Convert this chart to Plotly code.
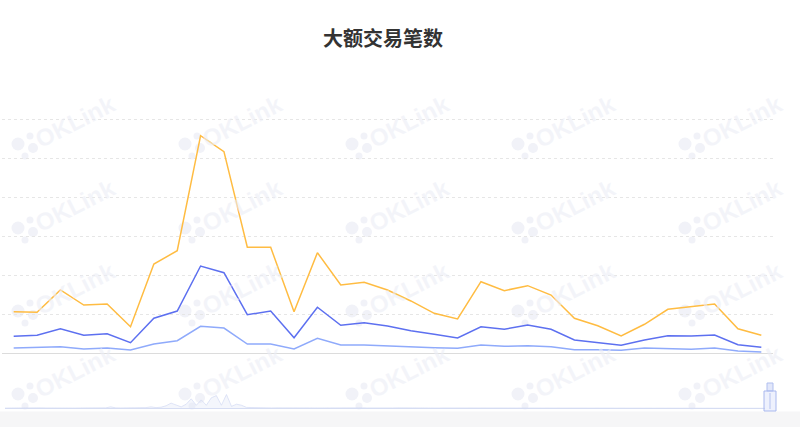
import plotly.graph_objects as go

# ---- data (y-axis units arbitrary, grid step = 500) ----
periods = list(range(1, 34))  # 33 unlabeled periods

series_high = [533, 526, 812, 619, 632, 341, 1145, 1315, 2790, 2585, 1359, 1359, 533,
               1290, 876, 910, 812, 671, 513, 440, 918, 803, 867, 747, 449, 354, 222,
               372, 564, 597, 632, 315, 231]
series_mid = [218, 231, 315, 231, 251, 136, 449, 542, 1119, 1033, 495, 542, 200,
              590, 359, 392, 350, 288, 244, 196, 341, 308, 363, 308, 171, 141, 103,
              171, 226, 222, 235, 110, 77]
series_low = [68, 72, 85, 55, 68, 42, 119, 162, 346, 324, 119, 119, 55,
              192, 106, 106, 94, 77, 72, 64, 106, 90, 97, 85, 46, 46, 38,
              68, 59, 51, 68, 29, 17]
grid_values = [500, 1000, 1500, 2000, 2500, 3000]

# overview (data-zoom slider) series, full history
overview = [0.4, 0.5, 0.4, 0.6, 0.5, 0.4, 0.5, 0.6, 0.5, 0.4, 0.5, 0.5, 0.6, 0.5, 0.4,
            0.5, 0.6, 0.5, 0.4, 0.5, 0.6, 1.5, 0.6, 0.5, 0.6, 0.5, 0.7, 0.6, 0.8, 1.5,
            0.8, 1.2, 2.5, 5.0, 3.0, 1.5, 4.0, 9.0, 3.0, 8.0, 3.0, 10.0, 12.0, 3.0, 13.0,
            2.0, 4.0, 3.0, 1.0, 0.8, 0.6, 0.5, 0.6, 0.5, 0.6, 0.5, 0.6, 0.5, 0.5, 0.6,
            0.5, 0.4, 0.5, 0.5, 0.6, 0.5, 0.4, 0.5, 0.5, 0.4, 0.5, 0.6, 0.5, 0.4, 0.5,
            0.5, 0.4, 0.5, 0.6, 0.5, 0.5, 0.4, 0.5, 0.5, 0.6, 0.5, 0.4, 0.5, 0.5, 0.4,
            0.5, 0.6, 0.5, 0.4, 0.5, 0.5, 0.6, 0.5, 0.4, 0.5, 0.5, 0.4, 0.5, 0.6, 0.5,
            0.5, 0.4, 0.5, 0.5, 0.6, 0.5, 0.4, 0.5, 0.5, 0.4, 0.5, 0.6, 0.5, 0.4, 0.5,
            0.5, 0.6, 0.5, 0.4, 0.5, 0.5, 0.4, 0.5, 0.6, 0.5, 0.5, 0.4, 0.5, 0.5, 0.6,
            0.5, 0.4, 0.5, 0.5, 0.4, 0.5, 0.6, 0.7, 0.6, 0.5, 0.6, 0.5, 0.5, 0.4, 0.3,
            0.3, 0.2]

title_text = "大额交易笔数"

# ---- layout geometry helpers (pixel -> paper) ----
W, H = 800, 427
ML, MR, MT, MB = 2, 27, 100, 15
PW, PH = W - ML - MR, H - MT - MB


def px(x):
    return (x - ML) / PW


def py(y):
    return (H - MB - y) / PH


fig = go.Figure()

colors = ["#FFBC42", "#5D70F0", "#8FAAFB"]
for vals, col in zip([series_high, series_mid, series_low], colors):
    fig.add_trace(go.Scatter(x=periods, y=vals, mode="lines",
                             line=dict(color=col, width=1.5),
                             hoverinfo="x+y", showlegend=False,
                             xaxis="x", yaxis="y"))

fig.add_trace(go.Scatter(x=list(range(len(overview))), y=overview, mode="lines",
                         line=dict(color="#d3daf3", width=0.7),
                         fill="tozeroy", fillcolor="rgba(220,226,246,0.3)",
                         hoverinfo="skip", showlegend=False,
                         xaxis="x2", yaxis="y2"))

shapes = [
    # bottom grey band
    dict(type="rect", xref="paper", yref="paper", x0=px(0), x1=px(800),
         y0=py(427), y1=py(411.5), fillcolor="#f6f6f7", line=dict(width=0), layer="below"),
    # slider baseline
    dict(type="line", xref="paper", yref="paper", x0=px(5), x1=px(765),
         y0=py(408.5), y1=py(408.5), line=dict(color="#d6ddf3", width=1.2)),
    # slider handle
    dict(type="rect", xref="paper", yref="paper", x0=px(767), x1=px(773),
         y0=py(391), y1=py(383), fillcolor="rgba(190,202,245,0.45)",
         line=dict(color="#b0bfef", width=1)),
    dict(type="rect", xref="paper", yref="paper", x0=px(764), x1=px(776),
         y0=py(411), y1=py(391), fillcolor="rgba(205,214,248,0.35)",
         line=dict(color="#a9b8ee", width=1)),
    dict(type="line", xref="paper", yref="paper", x0=px(770), x1=px(770),
         y0=py(409), y1=py(393), line=dict(color="#b6c3f0", width=1)),
]

annotations = []
# faint watermarks
for cx in [13, 180, 347, 513, 680]:
    for cy in [143, 227, 310, 393]:
        for dx, dy, r in [(5, 1, 6.5), (17, -7, 3.5), (20, 5, 5), (12, 13, 3.5)]:
            shapes.append(dict(type="circle", xref="paper", yref="paper",
                               x0=px(cx + dx - r), x1=px(cx + dx + r),
                               y0=py(cy + dy + r), y1=py(cy + dy - r),
                               fillcolor="#f1f2f8", line=dict(width=0),
                               layer="below"))
        annotations.append(dict(text="<b>OKLink</b>", xref="paper", yref="paper",
                                x=px(cx + 62), y=py(cy - 22), showarrow=False,
                                xanchor="center", yanchor="middle",
                                textangle=-27,
                                font=dict(family="Arial, Liberation Sans", size=24,
                                          color="rgba(236,238,246,0.6)")))

annotations.append(dict(text="<b>" + title_text + "</b>", xref="paper", yref="paper",
                        x=px(382.5), y=py(37), showarrow=False,
                        xanchor="center", yanchor="middle",
                        font=dict(family="Noto Sans CJK SC", size=20, color="#333333")))

fig.update_layout(
    width=W, height=H,
    margin=dict(l=ML, r=MR, t=MT, b=MB),
    paper_bgcolor="white", plot_bgcolor="rgba(0,0,0,0)",
    xaxis=dict(domain=[0, 1], range=[0.5, 33.5], showgrid=False, showticklabels=False,
               ticks="", zeroline=False, showline=True, linecolor="#dcdcdc",
               linewidth=1, anchor="y"),
    yaxis=dict(domain=[py(353.3), py(115.4)], range=[0, 3050], tickvals=grid_values,
               showticklabels=False, ticks="", zeroline=False, showline=False,
               gridcolor="#e6e6e6", griddash="3px,3px", gridwidth=1, anchor="x"),
    xaxis2=dict(domain=[px(5), px(765)], range=[0, len(overview) - 1], visible=False,
                anchor="y2"),
    yaxis2=dict(domain=[py(408.5), py(394)], range=[0, 13.5], visible=False, anchor="x2"),
    shapes=shapes,
    annotations=annotations,
    hovermode="x",
)

fig.write_html("out.html", config={"displayModeBar": False},
               post_script="document.body.style.margin='0';")
